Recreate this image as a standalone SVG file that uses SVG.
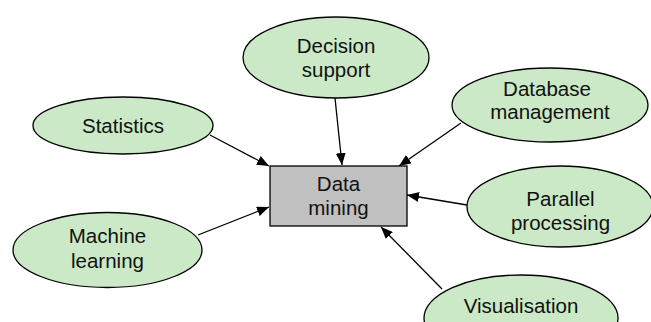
<svg xmlns="http://www.w3.org/2000/svg" width="651" height="322" viewBox="0 0 651 322">
  <style>
    .topic { fill: #cbe9c6; stroke: #000; stroke-width: 1.3; }
    .core { fill: #c0c0c0; stroke: #000; stroke-width: 1.3; }
    .label { font-family: "Liberation Sans", Arial, sans-serif; font-size: 20.5px; fill: #111; text-anchor: middle; }
    .link { stroke: #000; stroke-width: 1.3; fill: none; marker-end: url(#head); }
  </style>
  <defs>
    <marker id="head" viewBox="0 0 12 10" refX="12" refY="5" markerWidth="12" markerHeight="10" markerUnits="userSpaceOnUse" orient="auto">
      <path d="M0,0 L12,5 L0,10 Z" fill="#000"/>
    </marker>
  </defs>

  <g id="connectors">
    <line class="link" x1="210" y1="135" x2="269" y2="166"/>
    <line class="link" x1="335" y1="98" x2="342" y2="165"/>
    <line class="link" x1="461" y1="123" x2="399" y2="166"/>
    <line class="link" x1="467" y1="205" x2="407" y2="195"/>
    <line class="link" x1="198" y1="235" x2="269" y2="207"/>
    <line class="link" x1="442" y1="289" x2="381" y2="227"/>
  </g>

  <g id="data-mining">
    <rect class="core" x="270" y="166" width="137" height="60"/>
    <text class="label" x="338.5" y="191">Data</text>
    <text class="label" x="338.5" y="215">mining</text>
  </g>

  <g id="decision-support">
    <ellipse class="topic" cx="336" cy="57.5" rx="93" ry="40.5"/>
    <text class="label" x="336" y="53">Decision</text>
    <text class="label" x="336" y="77">support</text>
  </g>

  <g id="statistics">
    <ellipse class="topic" cx="123" cy="125.5" rx="90" ry="28.5"/>
    <text class="label" x="123" y="133">Statistics</text>
  </g>

  <g id="database-management">
    <ellipse class="topic" cx="550" cy="105" rx="98" ry="37"/>
    <text class="label" x="547" y="96">Database</text>
    <text class="label" x="550" y="119">management</text>
  </g>

  <g id="parallel-processing">
    <ellipse class="topic" cx="560" cy="206.5" rx="93" ry="40.5"/>
    <text class="label" x="560.5" y="206">Parallel</text>
    <text class="label" x="560.5" y="230">processing</text>
  </g>

  <g id="machine-learning">
    <ellipse class="topic" cx="107.5" cy="250" rx="94.5" ry="37.5"/>
    <text class="label" x="107.5" y="243">Machine</text>
    <text class="label" x="107.5" y="268">learning</text>
  </g>

  <g id="visualisation">
    <ellipse class="topic" cx="521" cy="318" rx="97" ry="43"/>
    <text class="label" x="521" y="313">Visualisation</text>
  </g>
</svg>
